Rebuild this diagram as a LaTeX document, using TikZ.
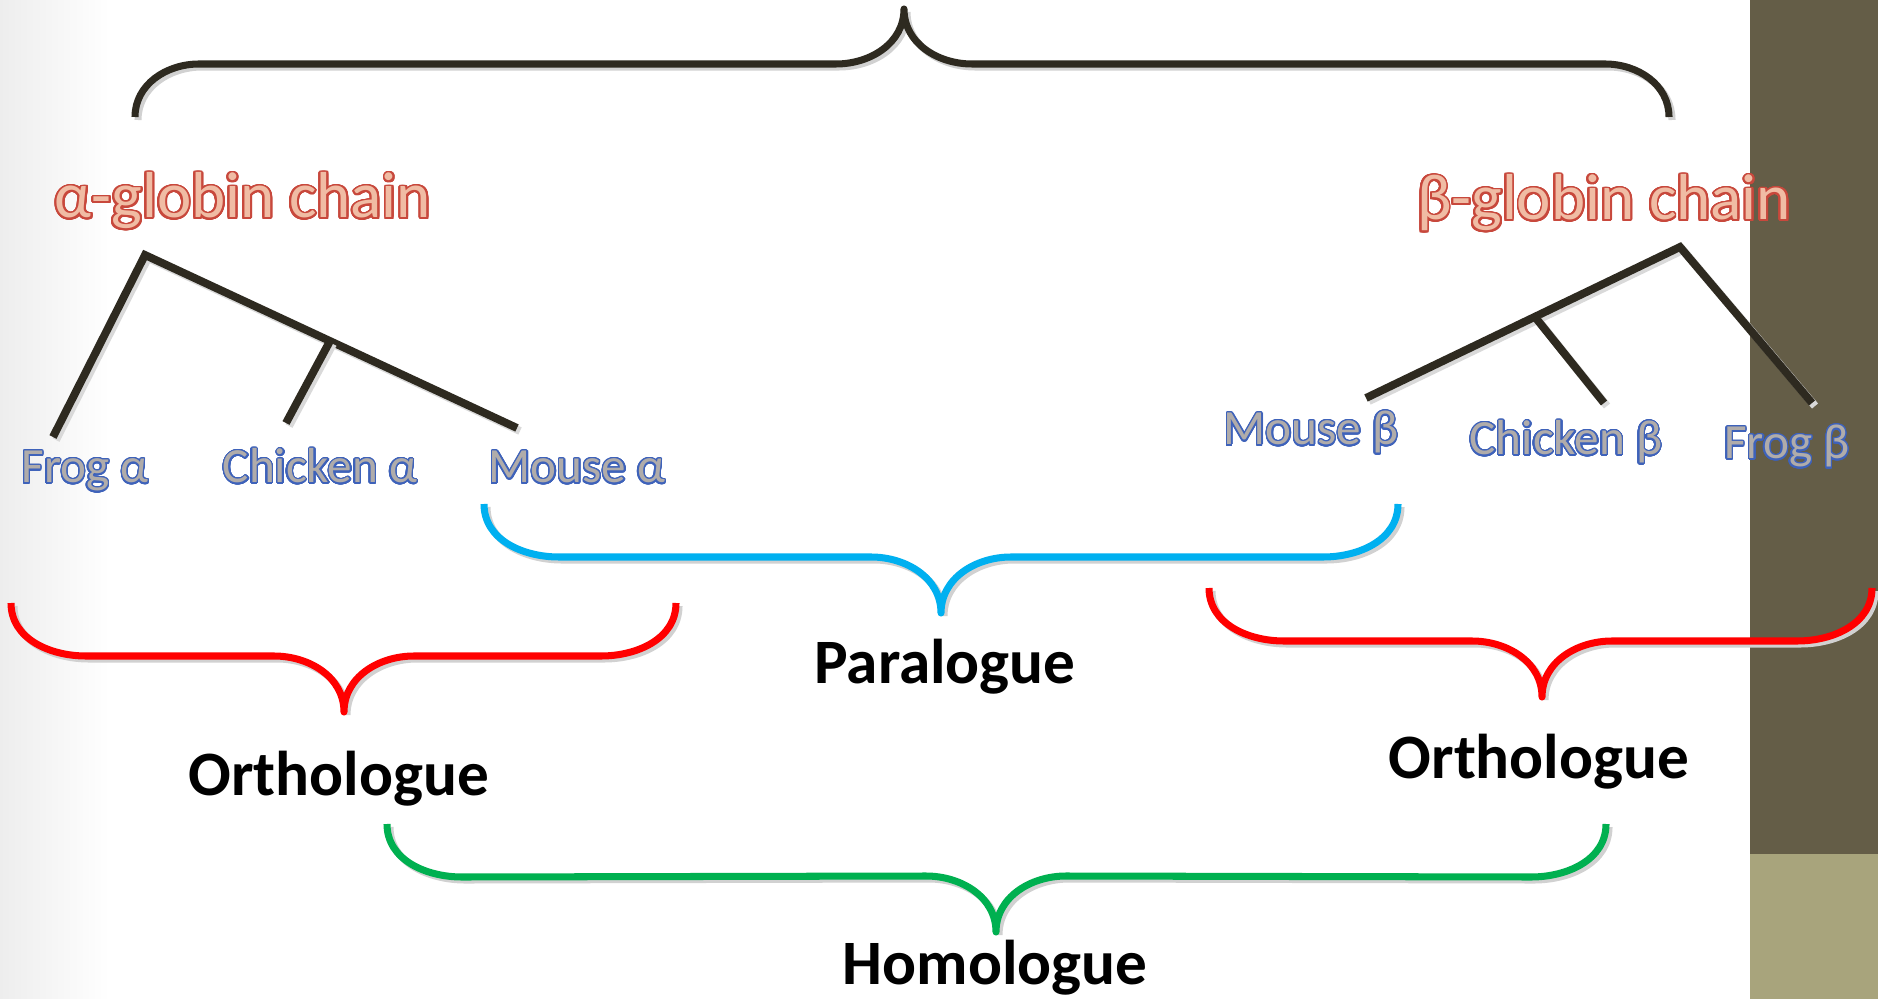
\documentclass[tikz,border=0pt]{standalone}
\usepackage{fontspec}
\setmainfont{Carlito}
\usepackage[copies]{contour}
\usepackage{color}
\usepackage{tikz}
\usetikzlibrary{calc}

\definecolor{panel}{RGB}{100,93,71}
\definecolor{panellight}{RGB}{168,164,124}
\definecolor{treeline}{RGB}{46,42,32}
\definecolor{parablue}{RGB}{0,176,240}
\definecolor{orthored}{RGB}{255,0,0}
\definecolor{homogreen}{RGB}{0,176,80}
\definecolor{chainfill}{RGB}{240,188,164}
\definecolor{chainline}{RGB}{200,72,60}
\definecolor{leaffill}{RGB}{176,172,170}
\definecolor{leafline}{RGB}{62,98,186}
\contournumber{32}

\begin{document}
\begin{tikzpicture}[x=0.02cm, y=0.02cm,
    brace/.style={line width=4pt, line join=round,
      preaction={draw=black!18, line width=4pt, transform canvas={shift={(3,-3)}}}},
    branch/.style={draw=treeline, line width=4.5pt, line join=miter,
      preaction={draw=black!15, line width=4.5pt, transform canvas={shift={(3,-3)}}}},
    chain/.style={text=chainfill, font=\fontsize{37}{40}\selectfont, anchor=base, inner sep=0pt},
    leaf/.style={text=leaffill, font=\fontsize{28}{32}\selectfont, anchor=base, inner sep=0pt},
    term/.style={text=black, font=\bfseries\fontsize{36}{40}\selectfont, anchor=base, inner sep=0pt}]
    \useasboundingbox (0,0) rectangle (1878,-999);
    \fill[white] (0,0) rectangle (1878,-999);
    \shade[left color=black!7, right color=white] (0,0) rectangle (110,-999);
    \fill[panel] (1750,0) rectangle (1878,-854);
    \fill[panellight] (1750,-854) rectangle (1878,-999);

    % brace ends and tips
    \coordinate (topl) at (135,-117);
    \coordinate (topc) at (904,-9);
    \coordinate (topr) at (1669,-117);
    \coordinate (paral) at (484,-504);
    \coordinate (parac) at (941,-613);
    \coordinate (parar) at (1398,-504);
    \coordinate (orthoal) at (11,-603);
    \coordinate (orthoac) at (344,-712);
    \coordinate (orthoar) at (676,-603);
    \coordinate (orthobl) at (1209,-588);
    \coordinate (orthobc) at (1542,-697);
    \coordinate (orthobr) at (1872,-588);
    \coordinate (homol) at (387,-824);
    \coordinate (homoc) at (996,-932);
    \coordinate (homor) at (1606,-824);

    \draw[brace, treeline] (topl) to[out=90,in=180] ++(64,53) -- ($(topc)+(-68,-55)$)
      to[out=0,in=-90] (topc) to[out=-90,in=180] ++(68,-55) -- ($(topr)+(-64,53)$) to[out=0,in=90] (topr);
    \draw[brace, parablue] (paral) to[out=-90,in=180] ++(75,-53) -- ($(parac)+(-70,56)$)
      to[out=0,in=90] (parac) to[out=90,in=180] ++(70,56) -- ($(parar)+(-75,-53)$) to[out=0,in=-90] (parar);
    \draw[brace, orthored] (orthoal) to[out=-90,in=180] ++(75,-53) -- ($(orthoac)+(-70,56)$)
      to[out=0,in=90] (orthoac) to[out=90,in=180] ++(70,56) -- ($(orthoar)+(-75,-53)$) to[out=0,in=-90] (orthoar);
    \draw[brace, orthored] (orthobl) to[out=-90,in=180] ++(75,-53) -- ($(orthobc)+(-70,56)$)
      to[out=0,in=90] (orthobc) to[out=90,in=180] ++(70,56) -- ($(orthobr)+(-75,-53)$) to[out=0,in=-90] (orthobr);
    \draw[brace, homogreen] (homol) to[out=-90,in=180] ++(75,-53) -- ($(homoc)+(-70,56)$)
      to[out=0,in=90] (homoc) to[out=90,in=180] ++(70,56) -- ($(homor)+(-75,-53)$) to[out=0,in=-90] (homor);

    % alpha tree
    \coordinate (aroot) at (145,-255);
    \coordinate (afrog) at (53,-437);
    \coordinate (amouse) at (517,-428);
    \coordinate (abr) at (330,-341);
    \coordinate (achick) at (286,-423);
    \draw[branch] (afrog) -- (aroot) -- (amouse);
    \draw[branch] (abr) -- (achick);

    % beta tree
    \coordinate (broot) at (1680,-247);
    \coordinate (bmouse) at (1366,-398);
    \coordinate (bfrog) at (1812,-403);
    \coordinate (bbr) at (1535,-317);
    \coordinate (bchick) at (1604,-403);
    \draw[branch] (bmouse) -- (broot) -- (bfrog);
    \draw[branch] (bbr) -- (bchick);

    \node (achain) [chain] at (243,-218) {\contourlength{1.1pt}\contour{chainline}{α-globin chain}};
    \node (bchain) [chain] at (1604,-220) {\contourlength{1.1pt}\contour{chainline}{β-globin chain}};

    \node (frogA) [leaf] at (85,-483) {\contourlength{0.8pt}\contour{leafline}{Frog α}};
    \node (chickA) [leaf] at (320,-483) {\contourlength{0.8pt}\contour{leafline}{Chicken α}};
    \node (mouseA) [leaf] at (577,-483) {\contourlength{0.8pt}\contour{leafline}{Mouse α}};
    \node (mouseB) [leaf] at (1311,-445) {\contourlength{0.8pt}\contour{leafline}{Mouse β}};
    \node (chickB) [leaf] at (1566,-455) {\contourlength{0.8pt}\contour{leafline}{Chicken β}};
    \node (frogB) [leaf] at (1787,-459) {\contourlength{0.8pt}\contour{leafline}{Frog β}};

    \node (para) [term] at (945,-683) {Paralogue};
    \node (orthoA) [term] at (339,-795) {Orthologue};
    \node (orthoB) [term] at (1539,-778) {Orthologue};
    \node (homo) [term] at (995,-984) {Homologue};
\end{tikzpicture}
\end{document}
